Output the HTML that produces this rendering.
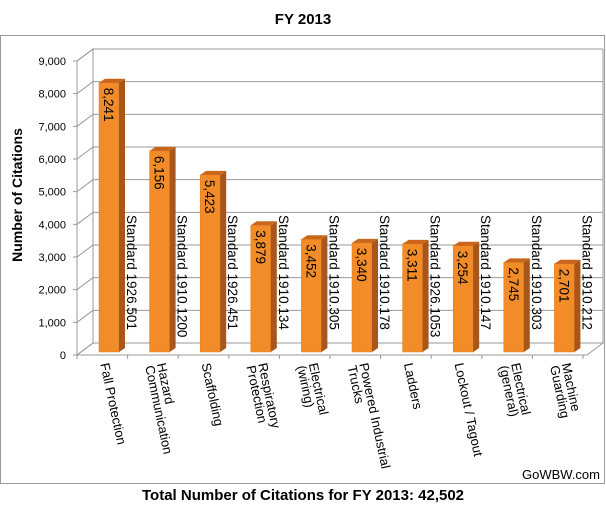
<!DOCTYPE html>
<html><head><meta charset="utf-8"><style>
body{margin:0;background:#fff;}
svg{display:block;font-family:"Liberation Sans",Arial,sans-serif;}
</style></head><body>
<svg id="c" width="606" height="509" viewBox="0 0 606 509">
<rect x="0.5" y="35.5" width="604" height="448" fill="#fff" stroke="#9a9a9a"/>
<text x="303" y="24" text-anchor="middle" font-size="15" font-weight="bold">FY 2013</text>
<text x="303" y="500" text-anchor="middle" font-size="15" font-weight="bold">Total Number of Citations for FY 2013: 42,502</text>
<text transform="translate(22,195) rotate(-90)" text-anchor="middle" font-size="14" font-weight="bold">Number of Citations</text>
<text x="600" y="479" text-anchor="end" font-size="13">GoWBW.com</text>
<g id="grid"></g><g id="bars"></g><g id="labels"></g>
</svg>
<script>
const categories=[["Fall Protection"],["Hazard","Communication"],["Scaffolding"],["Respiratory","Protection"],["Electrical","(wiring)"],["Powered Industrial","Trucks"],["Ladders"],["Lockout / Tagout"],["Electrical","(general)"],["Machine","Guarding"]];
const values=[8241,6156,5423,3879,3452,3340,3311,3254,2745,2701];
const standards=["Standard 1926.501","Standard 1910.1200","Standard 1926.451","Standard 1910.134","Standard 1910.305","Standard 1910.178","Standard 1926.1053","Standard 1910.147","Standard 1910.303","Standard 1910.212"];
const yTicks=[0,1000,2000,3000,4000,5000,6000,7000,8000,9000];
const yMax=9000;
const NS="http://www.w3.org/2000/svg";
const X0=77,Y0=355,YT=61,DX=16,DY=-12,CW=50.6,XR=X0+CW*categories.length;
function y(v){return Y0-(Y0-YT)*v/yMax;}
function mk(t,a,p){const e=document.createElementNS(NS,t);for(const k in a)e.setAttribute(k,a[k]);p.appendChild(e);return e;}
const grid=document.getElementById('grid'),bars=document.getElementById('bars'),lab=document.getElementById('labels');
mk('path',{d:`M${X0},${Y0} L${X0},${YT} L${X0+DX},${YT+DY} L${X0+DX},${Y0+DY} Z`,fill:'#fff',stroke:'#999'},grid);
mk('path',{d:`M${X0},${Y0} L${X0+DX},${Y0+DY} L${XR+DX+4},${Y0+DY} L${XR+4},${Y0} Z`,fill:'#fff',stroke:'#999'},grid);
yTicks.forEach(t=>{
 const l=mk('path',{d:`M${X0-4},${y(t)} L${X0},${y(t)} L${X0+DX},${y(t)+DY} L${XR+DX+4},${y(t)+DY}`,fill:'none',stroke:'#999'},grid);
 
 
 const tx=mk('text',{x:X0-11,y:y(t)+4,'text-anchor':'end','font-size':'11'},lab);
 tx.textContent=t.toLocaleString('en-US');
 
 
});
mk('line',{x1:XR+DX+4,y1:YT+DY,x2:XR+DX+4,y2:Y0+DY,stroke:'#999'},grid);
for(let i=0;i<=categories.length;i++){
 const tx0=X0+i*CW;
 mk('line',{x1:tx0,y1:Y0,x2:tx0,y2:Y0+4,stroke:'#999'},grid);
}
values.forEach((v,i)=>{
 const bx=X0+i*CW+22,bw=20,by=352;
 const g=mk('g',{},bars);
 
 
 const ty=by-(Y0-YT)*v/yMax;
 mk('rect',{x:bx,y:ty,width:bw,height:by-ty,fill:'#f28c28',stroke:'#e07a18','stroke-width':0.5},g);
 mk('path',{d:`M${bx+bw},${ty} L${bx+bw+6},${ty-4} L${bx+bw+6},${by-4} L${bx+bw},${by} Z`,fill:'#a8561a'},g);
 mk('path',{d:`M${bx},${ty} L${bx+6},${ty-4} L${bx+bw+6},${ty-4} L${bx+bw},${ty} Z`,fill:'#c9661c'},g);
 const vt=mk('text',{transform:`translate(${bx+5},${ty+5}) rotate(90)`,'font-size':'13.5'},g);
 vt.textContent=v.toLocaleString('en-US');
 
 
 const st=mk('text',{transform:`translate(${bx+bw+8},${215}) rotate(90)`,'font-size':'13.5'},lab);
 st.textContent=standards[i];
 
 
 const lines=categories[i];
 const cx=X0+i*CW+CW/2+(lines.length>1?4:-2);
 const ct=mk('text',{transform:`translate(${cx},${364}) rotate(78)`,'font-size':'13'},lab);
 
 
 lines.forEach((s,j)=>{const ts=mk('tspan',{x:0,dy:j?'12':'0'},ct);ts.textContent=s;});
});
</script>
</body></html>
